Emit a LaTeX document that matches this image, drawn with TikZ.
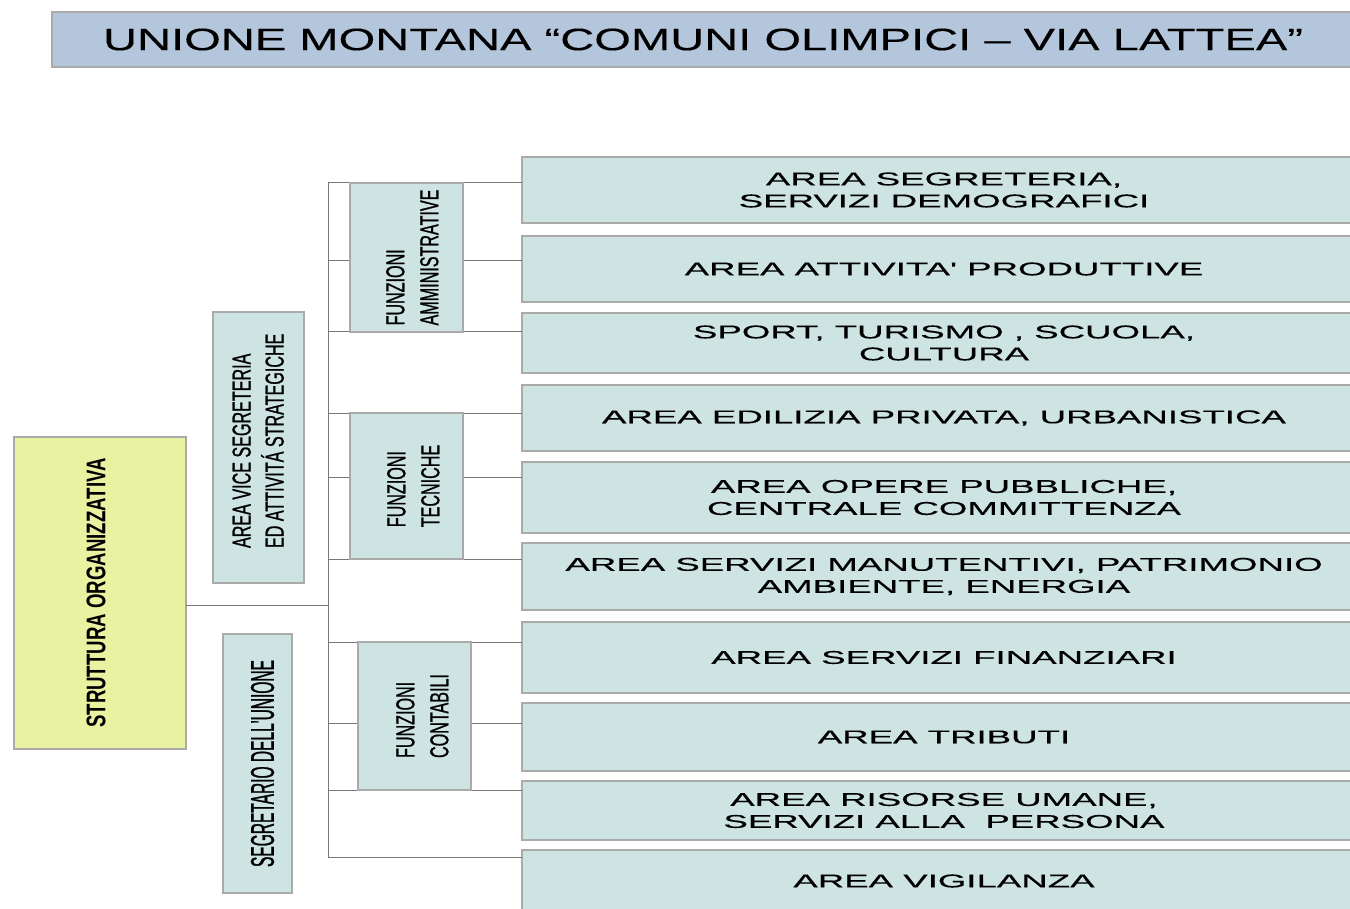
\documentclass[tikz,border=0pt]{standalone}
\usepackage{fontspec}
\newfontfamily\boxfont[FakeStretch=1.98,FakeBold=0.4,Ligatures=TeXOff]{Liberation Sans}
\newfontfamily\titlefont[FakeStretch=1.52,FakeBold=0.3,Ligatures=TeXOff]{Liberation Sans}
\newfontfamily\narrowfont[FakeStretch=0.62,FakeBold=0.8,Ligatures=TeXOff]{Liberation Sans}
\newfontfamily\segrfont[FakeStretch=0.47,FakeBold=0.8,Ligatures=TeXOff]{Liberation Sans}
\newfontfamily\strongfont[FakeStretch=0.69,Ligatures=TeXOff]{Liberation Sans}
\definecolor{areafill}{RGB}{205,228,226}
\definecolor{boxborder}{RGB}{170,170,170}
\definecolor{linkgray}{RGB}{120,120,120}
\definecolor{titlefill}{RGB}{180,198,220}
\definecolor{yellowfill}{RGB}{232,242,160}
% shift the ink of a rotated label without changing its box
\newcommand{\inkshift}[2]{\raisebox{#1}[\height][\depth]{#2}}
\newcommand{\twolines}[2]{\begin{tabular}{@{}l@{}}#1\\#2\end{tabular}}
\begin{document}
\begin{tikzpicture}[x=1pt,y=-1pt,
  base/.style={draw=boxborder,line width=1.2pt,inner sep=0pt,outer sep=0pt},
  areabox/.style={base,fill=areafill,minimum width=844,align=center,
    font={\boxfont\fontsize{18.5}{22}\selectfont}},
  funbox/.style={base,fill=areafill,rotate=90,minimum width=#1,minimum height=113,
    font={\narrowfont\fontsize{26}{34}\selectfont}},
  link/.style={draw=linkgray,line width=1pt}]
\useasboundingbox (0,0) rectangle (1350,909);
\fill[white] (0,0) rectangle (1350,909);

% title
\node[base,fill=titlefill,minimum width=1302,minimum height=55,
  font={\titlefont\fontsize{31}{34}\selectfont}] (title) at (703,39.5)
  {UNIONE MONTANA “COMUNI OLIMPICI – VIA LATTEA”};

% junction coordinates on the vertical bar
\coordinate (j0) at (328,605);
\coordinate (c1) at (328,183);
\coordinate (c2) at (328,261);
\coordinate (c3) at (328,332);
\coordinate (c4) at (328,413);
\coordinate (c5) at (328,477);
\coordinate (c6) at (328,559);
\coordinate (c7) at (328,642);
\coordinate (c8) at (328,723);
\coordinate (c9) at (328,790);
\coordinate (c10) at (328,857);

% right area boxes
\node[areabox,minimum height=66] (a1) at (944,190) {AREA SEGRETERIA,\\SERVIZI DEMOGRAFICI};
\node[areabox,minimum height=66] (a2) at (944,269) {AREA ATTIVITA' PRODUTTIVE};
\node[areabox,minimum height=60] (a3) at (944,343) {SPORT, TURISMO , SCUOLA,\\CULTURA};
\node[areabox,minimum height=66] (a4) at (944,418) {AREA EDILIZIA PRIVATA, URBANISTICA};
\node[areabox,minimum height=71] (a5) at (944,497.5) {AREA OPERE PUBBLICHE,\\CENTRALE COMMITTENZA};
\node[areabox,minimum height=67] (a6) at (944,576.5) {AREA SERVIZI MANUTENTIVI, PATRIMONIO\\AMBIENTE, ENERGIA};
\node[areabox,minimum height=71] (a7) at (944,657.5) {AREA SERVIZI FINANZIARI};
\node[areabox,minimum height=68] (a8) at (944,737) {AREA TRIBUTI};
\node[areabox,minimum height=59] (a9) at (944,810.5) {AREA RISORSE UMANE,\\SERVIZI ALLA\ \ PERSONA};
\node[areabox,minimum height=62] (a10) at (944,881) {AREA VIGILANZA};

% connectors
\draw[link] (c1) -- (c10);
\foreach \i in {1,...,10} {\draw[link] (c\i) -- (c\i -| a\i.west);}

% left boxes
\node[base,fill=yellowfill,rotate=90,minimum width=312,minimum height=172,
  font={\strongfont\bfseries\fontsize{27}{30}\selectfont}] (so) at (100,593)
  {\inkshift{4pt}{STRUTTURA ORGANIZZATIVA}};
\draw[link] (so.south |- j0) -- (j0);

\node[base,fill=areafill,rotate=90,minimum width=271,minimum height=91,
  font={\narrowfont\fontsize{26}{33}\selectfont}] (vice) at (258.5,447.5)
  {\makebox[271pt][l]{\hspace*{35pt}\inkshift{-2pt}{\twolines{AREA VICE SEGRETERIA}{ED ATTIVITÁ STRATEGICHE}}}};

\node[base,fill=areafill,rotate=90,minimum width=259,minimum height=69,
  font={\segrfont\fontsize{33}{36}\selectfont}] (segr) at (257.5,763.5)
  {\inkshift{-5pt}{SEGRETARIO DELL'UNIONE}};

% funzioni boxes
\node[funbox=149] (fa) at (406.5,257.5) {\inkshift{-8pt}{\twolines{FUNZIONI}{AMMINISTRATIVE}}};
\node[funbox=146] (ft) at (406.5,486) {\inkshift{-9pt}{\twolines{FUNZIONI}{TECNICHE}}};
\node[funbox=148] (fc) at (414.5,716) {\inkshift{-10pt}{\twolines{FUNZIONI}{CONTABILI}}};
\end{tikzpicture}
\end{document}
